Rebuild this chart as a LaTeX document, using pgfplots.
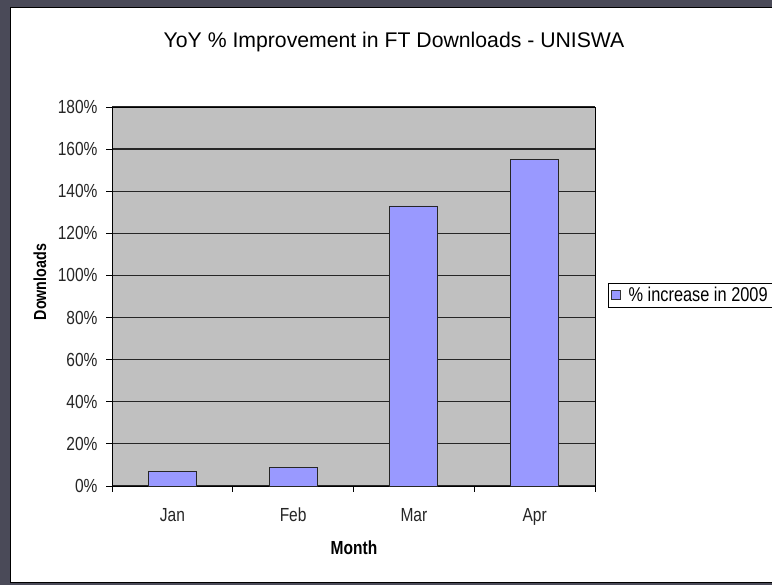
\documentclass[border=0pt]{standalone}
\usepackage{pgfplots}
\pgfplotsset{compat=1.18}
\usepackage{fontspec}
\setmainfont{Liberation Sans}
\newfontfamily\narrowfont[FakeStretch=0.82]{Liberation Sans}
\definecolor{barblue}{HTML}{9999FF}
\definecolor{plotgray}{HTML}{C0C0C0}
\definecolor{darkbg}{HTML}{4A4A58}
\begin{document}
\begin{tikzpicture}[x=1bp,y=1bp]
\useasboundingbox (0,0) rectangle (772,585);
\clip (0,0) rectangle (772,585);
\fill[darkbg] (0,0) rectangle (772,585);
\fill[white] (10,2) rectangle (772,577);
\draw[black,line width=1bp] (10,2) -- (10,577) -- (772,577);
\draw[black,line width=1bp] (10,2) -- (772,2);
\begin{axis}[
  at={(112bp,99bp)}, anchor=south west,
  scale only axis, width=483bp, height=379bp,
  xmin=-0.5, xmax=3.5, ymin=0, ymax=180,
  axis background/.style={fill=plotgray},
  axis line style={black, line width=0.9bp},
  ybar, bar width=48bp,
  xtick={0,1,2,3}, xticklabels={Jan,Feb,Mar,Apr},
  minor xtick={-0.5,0.5,1.5,2.5,3.5},
  major x tick style={draw=none},
  xtick pos=left, ytick pos=left,
  minor tick length=6bp, major tick length=6bp,
  tick align=outside, tick style={black, line width=0.9bp},
  ytick={0,20,...,180},
  yticklabel={\pgfmathprintnumber{\tick}\%},
  /pgf/number format/assume math mode=true,
  ymajorgrids, grid style={black!85, line width=1.2bp},
  tick label style={font=\narrowfont\fontsize{19}{21}\selectfont, text=black!85},
  xticklabel style={anchor=base, yshift=-30bp},
  yticklabel style={anchor=east, xshift=-5bp},
  title={YoY \% Improvement in FT Downloads - UNISWA},
  title style={font=\fontsize{21.3}{24}\selectfont, at={(axis description cs:0.584,1)}, anchor=base, yshift=54bp},
  xlabel={Month}, ylabel={Downloads},
  xlabel style={font=\narrowfont\bfseries\fontsize{19}{21}\selectfont, at={(axis description cs:0.501,0)}, anchor=base, yshift=-69bp},
  ylabel style={font=\narrowfont\bfseries\fontsize{17.5}{20}\selectfont, at={(axis description cs:-0.1366,0.538)}, anchor=base},
  legend style={at={(496bp,179bp)}, anchor=south west, draw=black, fill=white,
    font=\narrowfont\fontsize{20}{22}\selectfont, inner xsep=3bp, inner ysep=2bp, legend cell align=left},
  legend image code/.code={\draw[fill=barblue,draw=black!80] (0bp,-4.5bp) rectangle (9bp,4.5bp); \path[draw=none,fill=none] (0bp,0bp) -- (15bp,0bp);},
  clip=false,
]
\addplot[fill=barblue, draw=black!85, line width=0.9bp] coordinates {(0,7) (1,8.9) (2,133) (3,155)};
\addlegendentry{\% increase in 2009}
\end{axis}
\end{tikzpicture}
\end{document}
